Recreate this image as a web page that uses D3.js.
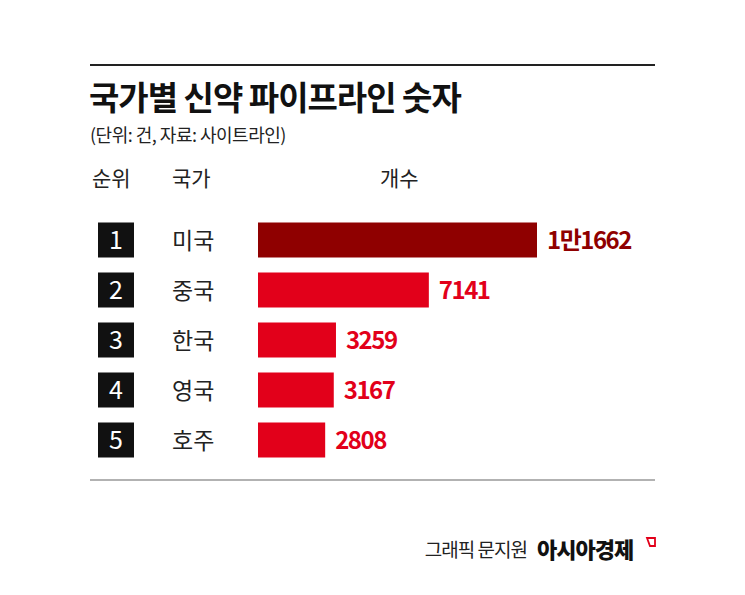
<!DOCTYPE html>
<html>
<head>
<meta charset="utf-8">
<style>
  body{ margin:0; background:#fff; font-family:"Noto Sans CJK KR", sans-serif; }
</style>
<script src="https://d3js.org/d3.v7.min.js"></script>
</head>
<body>
<script>
const countries = ['미국', '중국', '한국', '영국', '호주'];
const values = [11662, 7141, 3259, 3167, 2808];
const labels = ['1만1662', '7141', '3259', '3167', '2808'];

const width = 745, height = 595;
const svg = d3.select('body').append('svg').attr('width', width).attr('height', height);

svg.append('line').attr('x1', 90).attr('x2', 655).attr('y1', 65).attr('y2', 65).attr('stroke', '#222').attr('stroke-width', 2);
svg.append('text').attr('x', 89).attr('y', 110).attr('font-size', 33).attr('font-weight', 700).attr('fill', '#111')
  .attr('letter-spacing', -1).text('국가별 신약 파이프라인 숫자');
svg.append('text').attr('x', 90).attr('y', 142).attr('font-size', 18).attr('fill', '#222').attr('letter-spacing', -0.5)
  .text('(단위: 건, 자료: 사이트라인)');

const header = [['순위', 92], ['국가', 172], ['개수', 380]];
header.forEach(h => svg.append('text').attr('x', h[1]).attr('y', 186).attr('font-size', 21).attr('fill', '#222').text(h[0]));

const x = d3.scaleLinear().domain([0, 11662]).range([258, 537]);
const y = d3.scaleBand().domain(d3.range(5)).range([215, 465]).paddingInner(0.3).paddingOuter(0.15);

const rows = svg.append('g').selectAll('g').data(values).join('g')
  .attr('transform', (d, i) => `translate(0,${y(i)})`);
const bh = y.bandwidth();

rows.append('rect').attr('x', 98).attr('width', 36).attr('height', bh).attr('fill', '#111');
rows.append('text').attr('x', 116).attr('y', bh / 2 + 9).attr('text-anchor', 'middle').attr('font-size', 25)
  .attr('fill', '#fff').text((d, i) => i + 1);
rows.append('text').attr('x', 172).attr('y', bh / 2 + 9).attr('font-size', 23).attr('fill', '#222').text((d, i) => countries[i]);
rows.append('rect').attr('x', x(0)).attr('width', d => x(d) - x(0)).attr('height', bh)
  .attr('fill', (d, i) => i === 0 ? '#8f0000' : '#e2001a');
rows.append('text').attr('x', d => x(d) + 10).attr('y', bh / 2 + 9).attr('font-size', 24).attr('font-weight', 700)
  .attr('letter-spacing', -1.5).attr('fill', (d, i) => i === 0 ? '#8f0000' : '#e2001a').text((d, i) => labels[i]);

svg.append('line').attr('x1', 90).attr('x2', 655).attr('y1', 480).attr('y2', 480).attr('stroke', '#999').attr('stroke-width', 1.5);

svg.append('text').attr('x', 527).attr('y', 557).attr('text-anchor', 'end').attr('font-size', 19).attr('fill', '#222')
  .attr('letter-spacing', -1).text('그래픽 문지원');
svg.append('text').attr('x', 537).attr('y', 558).attr('font-size', 22).attr('font-weight', 900).attr('fill', '#111')
  .attr('letter-spacing', -1).text('아시아경제');
svg.append('path').attr('d', 'M647,538 L655,538 L655,546 L650,546 Z').attr('fill', 'none').attr('stroke', '#e2001a').attr('stroke-width', 1.8);
</script>
</body>
</html>
